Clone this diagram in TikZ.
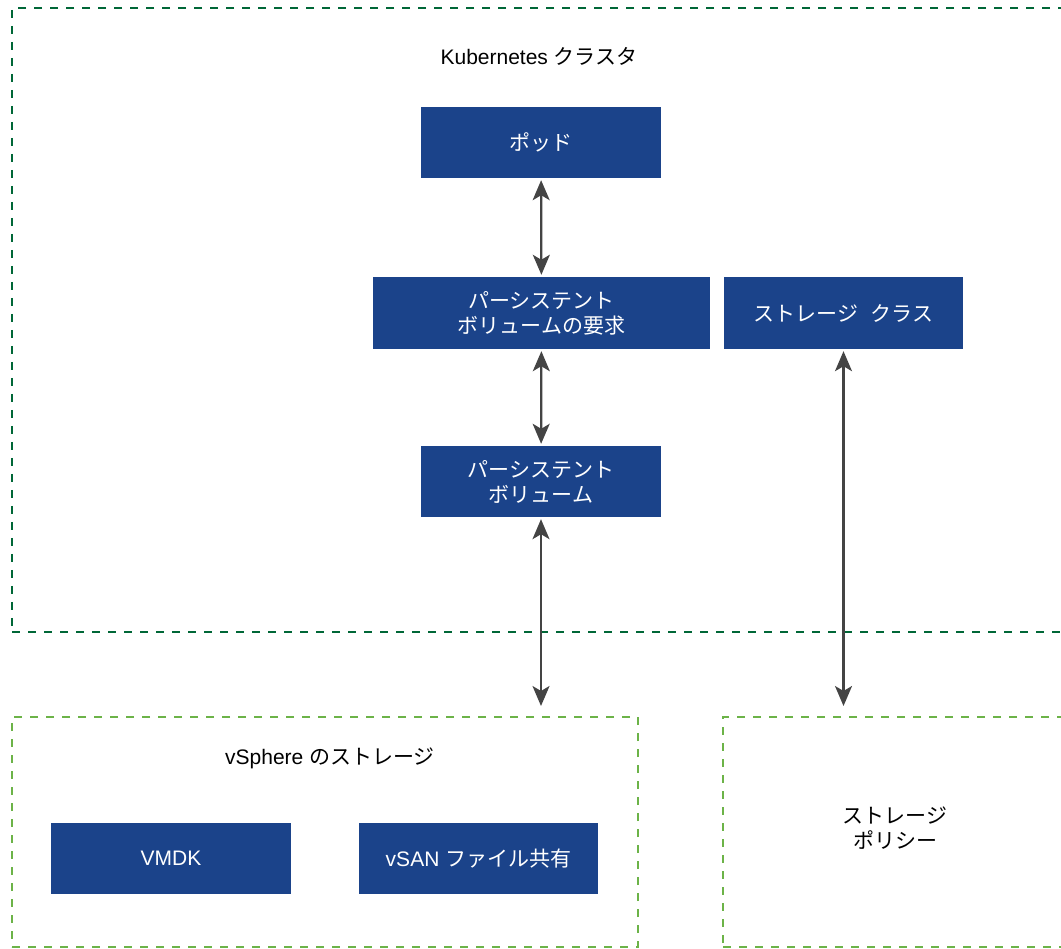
\documentclass[tikz,border=0pt]{standalone}
\usepackage{fontspec}
\setmainfont{Liberation Sans}
\newfontfamily\jpfont{Noto Sans CJK JP}
\usepackage{tikz}
\usetikzlibrary{arrows.meta}
\definecolor{VMBlue}{RGB}{27,67,138}
\definecolor{VMDarkGreen}{RGB}{0,103,55}
\definecolor{VMLightGreen}{RGB}{108,179,72}
\definecolor{VMGray}{RGB}{68,68,68}
\newcommand{\lblsize}{\fontsize{21}{25}\selectfont}

\begin{document}
\begin{tikzpicture}[x=1pt, y=-1pt,
    box/.style={fill=VMBlue, text=white, minimum width=240pt,
                minimum height=71pt, inner sep=0pt, align=center,
                font=\lblsize},
    group/.style={draw, line width=2pt, dash pattern=on 8pt off 8pt,
                  inner sep=0pt},
    grouplbl/.style={align=center, font=\lblsize},
    biarrow/.style={draw=VMGray, line width=2.2pt,
                    {Stealth[length=20pt,width=17pt,inset=5pt]}-{Stealth[length=20pt,width=17pt,inset=5pt]}}]
  \clip (0,0) rectangle (1061,949);

  % dashed groups
  \node[group, VMDarkGreen, minimum width=1055pt, minimum height=624pt]
        (k8s) at (539.5,320) {};
  \node[group, VMLightGreen, minimum width=626pt, minimum height=230pt]
        (vsphere) at (325,832) {};
  \node[group, VMLightGreen, minimum width=344pt, minimum height=230pt]
        (policy) at (895,832) {};

  \node[grouplbl] (k8slbl) at (539,56) {Kubernetes {\jpfont クラスタ}};
  \node[grouplbl] (vspherelbl) at (330,758) {vSphere {\jpfont のストレージ}};
  \node[grouplbl] (policylbl) at (895,828) {\jpfont ストレージ\\ \jpfont ポリシー};

  % boxes
  \node[box] (pod) at (541,142.5) {\jpfont ポッド};
  \node[box, minimum width=337pt, minimum height=72pt] (pvc) at (541.5,313)
        {\jpfont パーシステント\\ \jpfont ボリュームの要求};
  \node[box, minimum width=239pt, minimum height=72pt] (sc) at (843.5,313)
        {\jpfont ストレージ\hspace{0.6em}クラス};
  \node[box] (pv) at (541,481.5) {\jpfont パーシステント\\ \jpfont ボリューム};
  \node[box] (vmdk) at (171,858.5) {VMDK};
  \node[box, minimum width=239pt] (vsan) at (478.5,858.5)
        {vSAN {\jpfont ファイル共有}};

  % connectors
  \draw[biarrow, shorten <=2pt, shorten >=2pt] (pod) -- (pvc);
  \draw[biarrow, shorten <=2pt, shorten >=2pt] (pvc) -- (pv);
  \draw[biarrow, shorten <=2pt, shorten >=10pt] (pv.south) -- (pv.south |- vsphere.north);
  \draw[biarrow, shorten <=2pt, shorten >=10pt] (sc.south) -- (sc.south |- policy.north);
\end{tikzpicture}
\end{document}
